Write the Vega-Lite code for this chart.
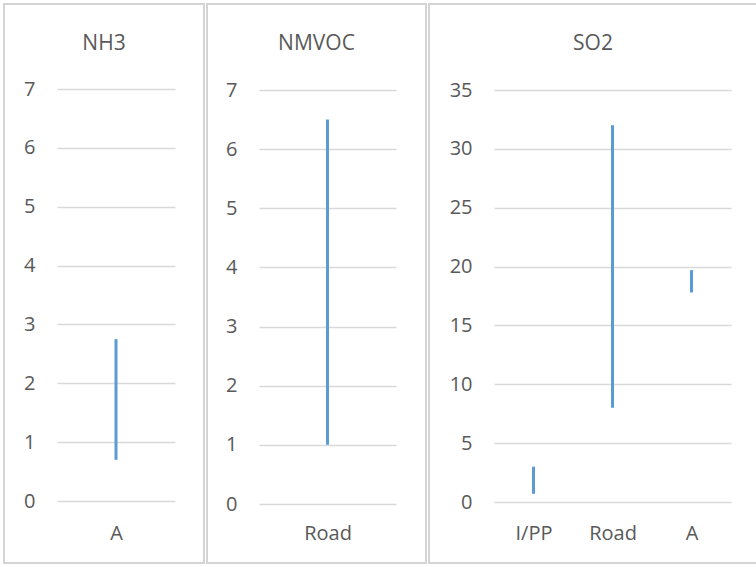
{
  "$schema": "https://vega.github.io/schema/vega-lite/v6.json",
  "padding": {"left": 3, "top": 3, "right": 0, "bottom": 0},
  "background": "white",
  "spacing": 1,
  "config": {
    "view": {"stroke": "#d4d4d4", "strokeWidth": 2},
    "font": "Open Sans",
    "axis": {
      "labelFont": "Open Sans",
      "labelFontSize": 20,
      "labelColor": "#595959",
      "domain": false,
      "ticks": false,
      "labelPadding": 0,
      "gridColor": "#d9d9d9",
      "gridWidth": 1.5
    },
    "axisX": {"grid": false, "labelAngle": 0, "labelBaseline": "middle"},
    "axisY": {"grid": true, "labelBaseline": "middle"},
    "title": {"font": "Open Sans", "fontSize": 21, "fontWeight": "normal", "color": "#595959", "anchor": "middle", "frame": "group", "baseline": "middle", "offset": -50}
  },
  "hconcat": [
    {
      "width": 200,
      "height": 559,
      "title": "NH3",
      "data": {"values": [{"source": "A", "low": 0.7, "high": 2.75}]},
      "mark": {"type": "rule", "color": "#5b9bd5", "strokeWidth": 3},
      "encoding": {
        "x": {"field": "source", "type": "nominal", "scale": {"type": "point", "range": [53, 171]}, "axis": {"offset": -30, "title": null}},
        "y": {"field": "low", "type": "quantitative", "scale": {"domain": [0, 7], "range": [497, 85], "nice": false}, "axis": {"offset": -31, "title": null, "values": [0, 1, 2, 3, 4, 5, 6, 7]}},
        "y2": {"field": "high"}
      }
    },
    {
      "width": 219,
      "height": 559,
      "title": "NMVOC",
      "data": {"values": [{"source": "Road", "low": 1.0, "high": 6.5}]},
      "mark": {"type": "rule", "color": "#5b9bd5", "strokeWidth": 3},
      "encoding": {
        "x": {"field": "source", "type": "nominal", "scale": {"type": "point", "range": [52, 189]}, "axis": {"offset": -30, "title": null}},
        "y": {"field": "low", "type": "quantitative", "scale": {"domain": [0, 7], "range": [500, 86], "nice": false}, "axis": {"offset": -30, "title": null, "values": [0, 1, 2, 3, 4, 5, 6, 7]}},
        "y2": {"field": "high"}
      }
    },
    {
      "width": 328,
      "height": 559,
      "title": "SO2",
      "data": {"values": [
        {"source": "I/PP", "low": 0.7, "high": 3.0},
        {"source": "Road", "low": 8.0, "high": 32.0},
        {"source": "A", "low": 17.8, "high": 19.7}
      ]},
      "mark": {"type": "rule", "color": "#5b9bd5", "strokeWidth": 3},
      "encoding": {
        "x": {"field": "source", "type": "nominal", "sort": ["I/PP", "Road", "A"], "scale": {"type": "point", "range": [65, 302]}, "axis": {"offset": -30, "title": null}},
        "y": {"field": "low", "type": "quantitative", "scale": {"domain": [0, 35], "range": [498, 86], "nice": false}, "axis": {"offset": -43, "title": null, "values": [0, 5, 10, 15, 20, 25, 30, 35]}},
        "y2": {"field": "high"}
      }
    }
  ]
}
